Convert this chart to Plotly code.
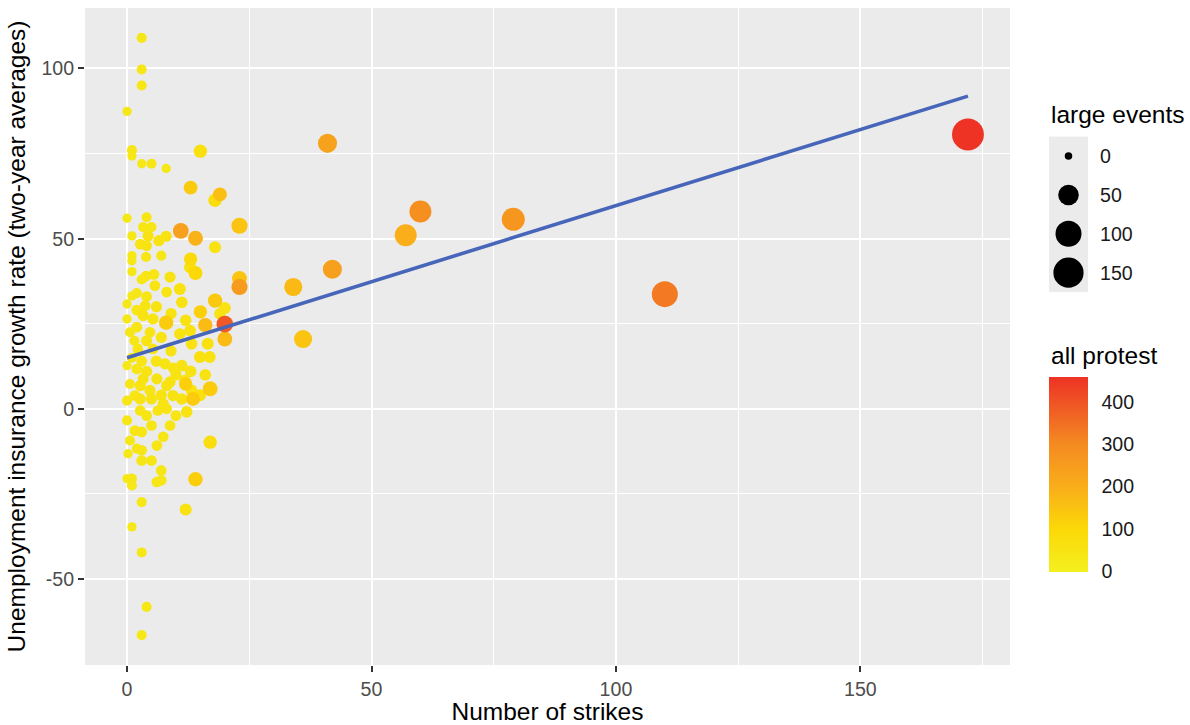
import numpy as np
import plotly.graph_objects as go

# ---------------- data ----------------
strikes = [172, 110, 79, 60, 57, 41, 42, 34, 36, 23, 23, 23, 20, 20, 11, 14, 16, 18, 17, 14,
           13, 19, 18, 15, 14, 13, 8, 15, 17, 12, 13.5, 12,
           3, 3, 3, 0, 1, 1, 3, 5, 8, 0, 4, 3.3, 5, 1, 4.3, 8, 2.7, 4, 6.5, 18, 1, 1, 3.9, 7,
           12.9, 1, 3.9, 8.8, 3, 5.7, 10.8, 1, 8.1, 11.2, 3.7, 0, 20, 19, 0, 0.6, 3.3, 5.3, 4.7,
           2.2, 5.3, 12.9, 10.8, 13.2, 16.5, 14.9, 16.9, 11.2, 7.8, 0, 2, 3.3, 6.1, 8.8, 11.8,
           0.6, 13.2, 4.7, 1.6, 9.4, 2.7, 8.1, 0, 2.7, 5, 11.2, 7.4, 2.7, 6.3, 8.1, 12.2, 0, 5,
           8.8, 1.6, 3, 7.4, 0.6, 2, 3, 6.1, 0.2, 3, 5, 7, 1, 0, 6.1, 7, 1, 3, 1, 3, 4, 3,
           2, 4, 6, 9, 3, 1, 6, 9, 7, 10, 4, 5.5, 2, 1.5, 7, 10, 4, 14.9, 9.5, 13, 16, 2, 4, 12]
ui_growth = [80.6, 33.7, 55.7, 58, 51, 78, 41, 35.8, 20.5, 53.8, 38.3, 35.8, 24.9, 20.5, 52.3,
             50.1, 24.6, 31.8, 5.9, -20.7, 65, 63, 61.3, 75.7, 39.9, 44, 25.3, 28.5, -9.8, 7.3,
             2.9, -29.6,
             109, 99.7, 95, 87.4, 76, 74.3, 72, 72, 70.6, 56, 56.3, 53.4, 53.4, 50.8, 50.8, 50.7,
             48.4, 47.9, 49.4, 47.5, 45, 43.5, 44.6, 45, 41.6, 40.3, 39, 38.7, 38, 36.2, 35.2,
             33.2, 34.3, 31.3, 30.3, 30.8, 29.6, 27.9, 26.4, 22.5, 27.4, 26.4, 22.5, 17.6, 17.6,
             23, 22, 19.1, 19.1, 15.2, 15.2, 12.7, 13.2, 12.7, 11.7, 8.8, 8.8, 7.9, 8.3, 7.3,
             5.4, 5.4, 3.9, 3.9, 6.8, 6.8, 2.4, 2.9, 2.9, 2.9, 1.5, -0.5, -0.5, 0, -0.9, -3.4,
             -4.9, -4.9, -6.4, -6.8, -8.2, -9.3, -11.7, -12.2, -10.8, -13.2, -15.2, -15.2, -18.1,
             -20.5, -20.5, -21.5, -21, -22.5, -27.4, -34.7, -42.2, -58.2, -66.5,
             24, 20, 14, 17, 14, 15, 30, 28, 21, 10, 11, 39.5, 29, 20, 4, -2, -2, 4, 12, 11, 10,
             34, 33, 26]
large_events = [174, 100, 70, 61, 61, 39, 39, 33, 33, 22, 16, 22, 25, 16, 20, 16, 14, 14, 16, 14,
                12, 12, 10, 10, 12, 10, 14, 10, 10, 10, 12, 6,
                2, 2, 2, 1, 2, 1, 1, 2, 1, 1, 2, 2, 2, 1, 4, 4, 3, 3, 4, 6, 1, 1, 2, 2, 6, 1, 3,
                4, 2, 3, 6, 1, 3, 5, 3, 1, 6, 5, 1, 2, 4, 4, 3, 3, 3, 5, 5, 5, 6, 6, 6, 5, 4, 1,
                3, 4, 4, 4, 5, 2, 5, 4, 3, 4, 4, 4, 2, 4, 4, 5, 4, 3, 3, 3, 5, 2, 3, 3, 3, 3, 3,
                2, 2, 3, 3, 1, 3, 3, 3, 2, 1, 3, 3, 2, 2, 1, 2, 2, 2,
                3, 4, 4, 4, 3, 2, 4, 4, 4, 4, 4, 3, 3, 2, 4, 3, 3, 6, 4, 5, 5, 2, 3, 5]
all_protest = [459, 330, 270, 290, 200, 235, 240, 175, 150, 150, 150, 255, 390, 170, 240, 190,
               170, 140, 130, 125, 135, 160, 80, 70, 100, 90, 130, 120, 80, 120, 130, 60,
               40, 40, 40, 30, 40, 35, 35, 40, 35, 30, 45, 45, 40, 35, 60, 60, 50, 55, 60, 60,
               35, 35, 45, 40, 70, 30, 45, 55, 40, 50, 60, 35, 50, 60, 50, 30, 60, 55, 30, 40,
               55, 50, 50, 45, 50, 60, 55, 60, 65, 70, 60, 55, 50, 30, 45, 55, 55, 60, 60, 40,
               60, 50, 45, 55, 50, 55, 40, 50, 55, 60, 50, 45, 50, 50, 60, 40, 45, 45, 45, 45,
               45, 35, 40, 40, 45, 35, 40, 40, 40, 40, 35, 40, 40, 35, 35, 30, 35, 35, 35,
               45, 50, 50, 55, 45, 40, 55, 55, 50, 55, 50, 45, 45, 40, 55, 45, 45, 70, 55, 60,
               60, 40, 45, 55]

x_ticks = [0, 50, 100, 150]
y_ticks = [-50, 0, 50, 100]
size_breaks = [0, 50, 100, 150]
protest_ticks = [0, 100, 200, 300, 400]
protest_stop_values = [0, 100, 200, 300, 400, 459]
protest_stop_colors = ["#F4EF1F", "#FBD907", "#F9AE1A", "#F48B21", "#EF5325", "#EE3224"]
fit_intercept = 15.0
fit_slope = 0.447

# ---------------- helpers ----------------
x = np.array(strikes, dtype=float)
y = np.array(ui_growth, dtype=float)
le = np.array(large_events, dtype=float)
ap = np.array(all_protest, dtype=float)


def size_px(v):
    return 7.5 + 1.85 * np.sqrt(np.asarray(v, dtype=float))


cmax = max(protest_stop_values)
colorscale = [[v / cmax, c] for v, c in zip(protest_stop_values, protest_stop_colors)]

order = np.argsort(ap, kind="stable")


def expand(lo, hi, f=0.05):
    s = hi - lo
    return [lo - f * s, hi + f * s]


def minor_between(ticks, rng):
    step = ticks[1] - ticks[0]
    cands = [ticks[0] - step / 2] + [t + step / 2 for t in ticks]
    return [c for c in cands if rng[0] <= c <= rng[1]]


xr = expand(x.min(), x.max())
yr = expand(y.min(), y.max())

FONT = "Liberation Sans, Arial, sans-serif"
TICK_SIZE = 19.6
TITLE_SIZE = 24.5

W, H = 1190, 725
ML, MR, MT, MB = 85, 0, 8, 58
PW, PH = W - ML - MR, H - MT - MB


def px_x(p):
    return (p - ML) / PW


def px_y(p):
    return 1 - (p - MT) / PH


fig = go.Figure()

fig.add_trace(go.Scatter(
    x=x[order], y=y[order], mode="markers",
    marker=dict(
        size=size_px(le[order]), color=ap[order], colorscale=colorscale,
        cmin=0, cmax=cmax, line=dict(width=0), opacity=1,
        showscale=True,
        colorbar=dict(
            x=px_x(1049), xanchor="left", y=px_y(475.5), yanchor="middle",
            len=195, lenmode="pixels", thickness=39, thicknessmode="pixels",
            outlinewidth=0, xpad=0, ypad=0,
            tickvals=protest_ticks, ticks="outside", ticklen=10,
            tickcolor="rgba(0,0,0,0)",
            tickfont=dict(family=FONT, size=TICK_SIZE, color="#1a1a1a"),
        ),
    ),
    showlegend=False, hoverinfo="skip",
))

xl = np.array([x.min(), x.max()])
fig.add_trace(go.Scatter(
    x=xl, y=fit_intercept + fit_slope * xl, mode="lines",
    line=dict(color="#4766BA", width=3.6), showlegend=False, hoverinfo="skip",
))

# size legend in its own small axes
fig.add_trace(go.Scatter(
    x=[0.5] * len(size_breaks), y=list(range(len(size_breaks))), mode="markers",
    marker=dict(size=size_px(size_breaks), color="#000000", line=dict(width=0), opacity=1),
    xaxis="x2", yaxis="y2", showlegend=False, hoverinfo="skip",
))

fig.update_layout(
    width=W, height=H,
    margin=dict(l=ML, r=MR, t=MT, b=MB),
    paper_bgcolor="white", plot_bgcolor="#EBEBEB",
    font=dict(family=FONT, color="black"),
    xaxis=dict(
        domain=[0, px_x(1010)], range=xr, tickvals=x_ticks,
        ticktext=[str(t) for t in x_ticks],
        ticks="outside", ticklen=6, tickwidth=1.5, tickcolor="#333333",
        tickfont=dict(size=TICK_SIZE, color="#4D4D4D"),
        showgrid=True, gridcolor="white", gridwidth=2, zeroline=False, showline=False,
        minor=dict(tickvals=minor_between(x_ticks, xr), showgrid=True, gridcolor="white",
                   gridwidth=1, ticks=""),
        title=dict(text="Number of strikes", font=dict(size=TITLE_SIZE, color="black"),
                   standoff=8),
    ),
    yaxis=dict(
        domain=[0, 1], range=yr, tickvals=y_ticks,
        ticktext=[str(t) for t in y_ticks],
        ticks="outside", ticklen=6, tickwidth=1.5, tickcolor="#333333",
        tickfont=dict(size=TICK_SIZE, color="#4D4D4D"),
        showgrid=True, gridcolor="white", gridwidth=2, zeroline=False, showline=False,
        minor=dict(tickvals=minor_between(y_ticks, yr), showgrid=True, gridcolor="white",
                   gridwidth=1, ticks=""),
        title=dict(text="Unemployment insurance growth rate (two-year averages)",
                   font=dict(size=TITLE_SIZE, color="black"), standoff=8),
    ),
    xaxis2=dict(
        domain=[px_x(1049), px_x(1088)], range=[0, 1], anchor="y2",
        showgrid=False, zeroline=False, showticklabels=False, ticks="", fixedrange=True,
    ),
    yaxis2=dict(
        domain=[px_y(293), px_y(137)], range=[len(size_breaks) - 0.5, -0.5], anchor="x2",
        side="right", tickvals=list(range(len(size_breaks))),
        ticktext=[str(b) for b in size_breaks], ticks="",
        tickfont=dict(size=TICK_SIZE, color="#1a1a1a"), ticklabelstandoff=11,
        showgrid=False, zeroline=False, fixedrange=True,
    ),
    annotations=[
        dict(text="large events", x=px_x(1049), y=px_y(115), xref="paper", yref="paper",
             xanchor="left", yanchor="middle", showarrow=False,
             font=dict(size=TITLE_SIZE, color="black")),
        dict(text="all protest", x=px_x(1049), y=px_y(357), xref="paper", yref="paper",
             xanchor="left", yanchor="middle", showarrow=False,
             font=dict(size=TITLE_SIZE, color="black")),
    ],
)

fig.write_html("out.html")
